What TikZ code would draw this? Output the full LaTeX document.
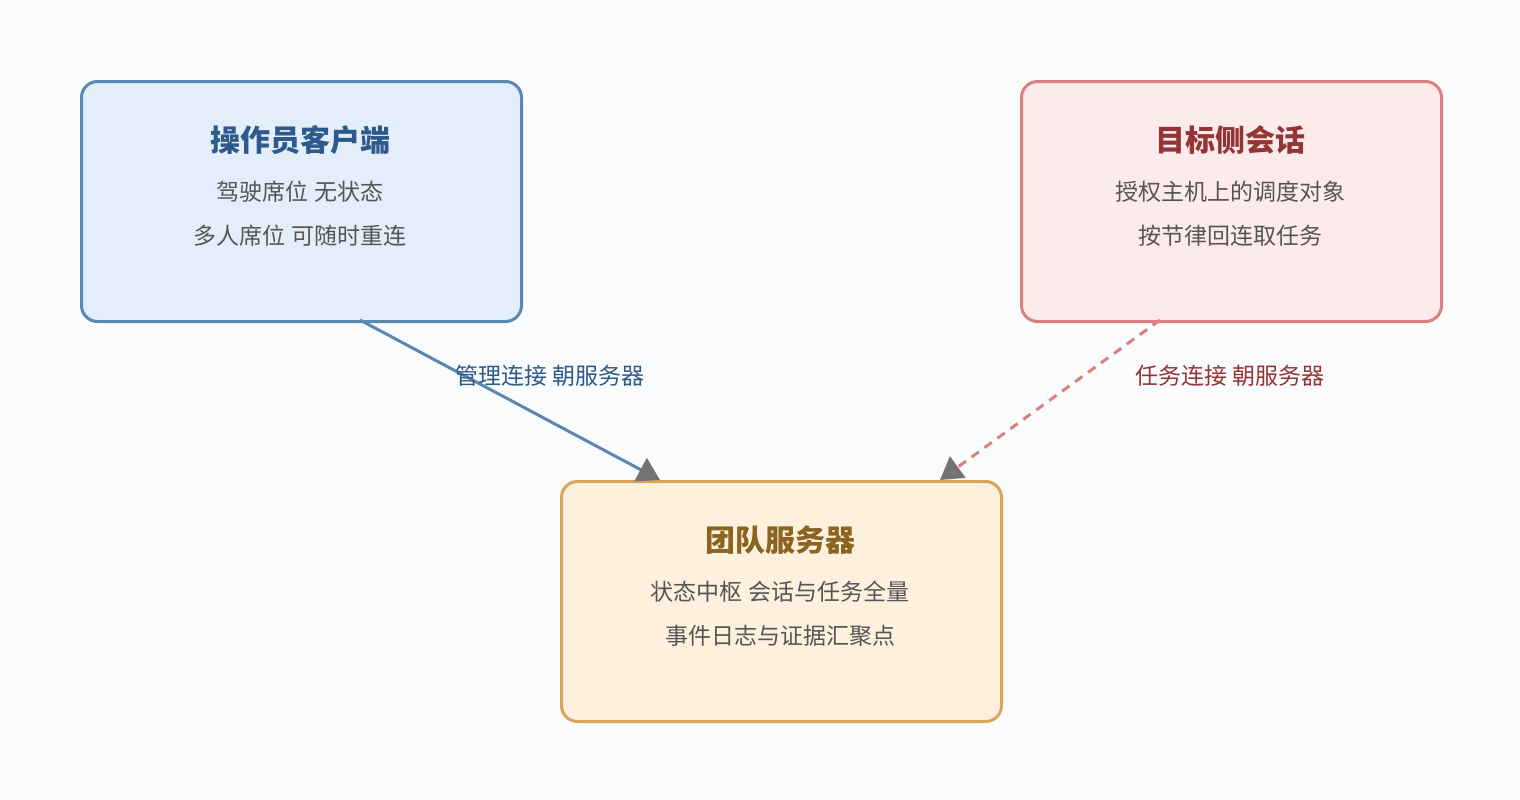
\documentclass[tikz,border=0pt]{standalone}
\usepackage{fontspec}
\setmainfont{Noto Sans CJK SC}
\usetikzlibrary{arrows.meta}
\definecolor{bg}{HTML}{FAFBFD}
\definecolor{bB}{HTML}{5B87B0}\definecolor{fB}{HTML}{E3EEFA}\definecolor{tB}{HTML}{2D5A8A}
\definecolor{bR}{HTML}{D98080}\definecolor{fR}{HTML}{FDEAEA}\definecolor{tR}{HTML}{943535}
\definecolor{bY}{HTML}{D9A55A}\definecolor{fY}{HTML}{FDF1DE}\definecolor{tY}{HTML}{8A6420}
\definecolor{txt}{HTML}{555555}
\begin{document}
\begin{tikzpicture}[x=1pt,y=-1pt,
 box/.style={draw,line width=3pt,rounded corners=16pt,minimum width=440pt,minimum height=240pt,anchor=north west,inner sep=0pt},
 ttl/.style={font=\fontsize{30}{30}\selectfont\bfseries},
 body/.style={font=\fontsize{23}{23}\selectfont,text=txt},
 conn/.style={line width=3pt,-{Triangle[length=22pt,width=26pt,fill=gray!90!black,color=gray!90!black]}},
 lbl/.style={font=\fontsize{23}{23}\selectfont}]
\fill[bg] (0,0) rectangle (1520,800);
\node[box,draw=bB,fill=fB] (op) at (80,80) {};
\node[box,draw=bR,fill=fR,minimum width=420pt] (tg) at (1020,80) {};
\node[box,draw=bY,fill=fY] (sv) at (560,480) {};
\node[ttl,text=tB] (opt) at (300,140) {操作员客户端};
\node[body] (op1) at (300,192) {驾驶席位 无状态};
\node[body] (op2) at (300,236) {多人席位 可随时重连};
\node[ttl,text=tR] (tgt) at (1230,140) {目标侧会话};
\node[body] (tg1) at (1230,192) {授权主机上的调度对象};
\node[body] (tg2) at (1230,236) {按节律回连取任务};
\node[ttl,text=tY] (svt) at (780,540) {团队服务器};
\node[body] (sv1) at (780,592) {状态中枢 会话与任务全量};
\node[body] (sv2) at (780,636) {事件日志与证据汇聚点};
\coordinate (a1) at (360,320); \coordinate (a2) at (660,480);
\coordinate (b1) at (1160,320); \coordinate (b2) at (940,480);
\draw[conn,draw=bB] (a1) -- (a2);
\draw[conn,draw=bR,dash pattern=on 9pt off 7pt] (b1) -- (b2);
\node[lbl,text=tB] (l1) at (550,376) {管理连接 朝服务器};
\node[lbl,text=tR] (l2) at (1230,376) {任务连接 朝服务器};
\end{tikzpicture}
\end{document}
